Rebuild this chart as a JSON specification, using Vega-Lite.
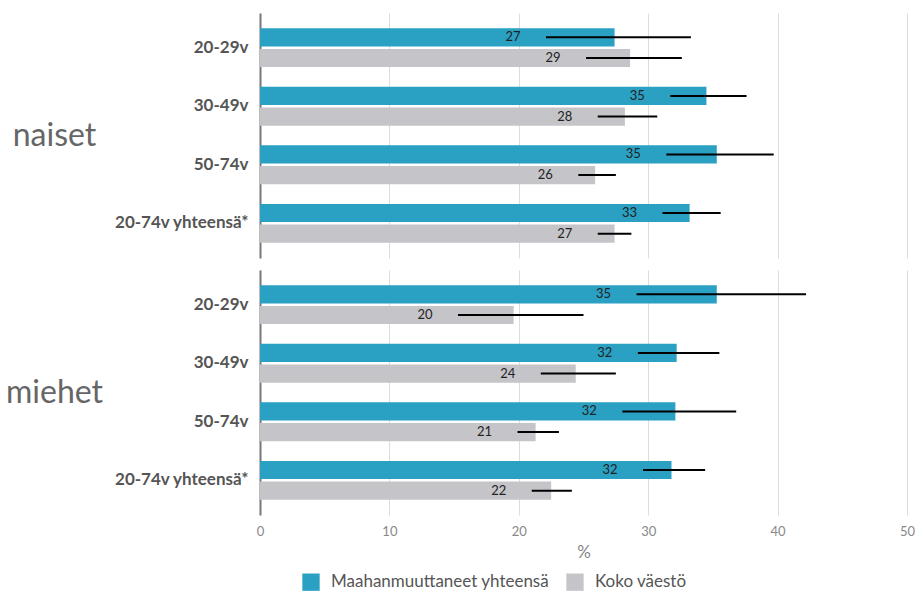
{
  "$schema": "https://vega.github.io/schema/vega-lite/v6.json",
  "padding": {"top": 13, "left": 5, "right": 0, "bottom": 0},
  "background": "white",
  "config": {
    "font": "Lato",
    "view": {"stroke": null},
    "concat": {"spacing": 12},
    "legend": {
      "title": null,
      "orient": "none",
      "legendX": 42,
      "legendY": 560,
      "direction": "horizontal",
      "symbolType": "square",
      "symbolSize": 300,
      "symbolStrokeWidth": 0,
      "symbolOpacity": 1,
      "labelFontSize": 17,
      "labelColor": "#555555",
      "labelLimit": 400,
      "labelOffset": 11,
      "columnPadding": 16
    }
  },
  "resolve": {"scale": {"color": "shared"}, "legend": {"color": "shared"}},
  "datasets": {
    "rows": [
      {"sex": "naiset", "age": "20-29v", "series": "Maahanmuuttaneet yhteensä", "value": 27.4, "lo": 22.1, "hi": 33.3, "label": "27"},
      {"sex": "naiset", "age": "20-29v", "series": "Koko väestö", "value": 28.6, "lo": 25.2, "hi": 32.6, "label": "29"},
      {"sex": "naiset", "age": "30-49v", "series": "Maahanmuuttaneet yhteensä", "value": 34.5, "lo": 31.7, "hi": 37.6, "label": "35"},
      {"sex": "naiset", "age": "30-49v", "series": "Koko väestö", "value": 28.2, "lo": 26.1, "hi": 30.7, "label": "28"},
      {"sex": "naiset", "age": "50-74v", "series": "Maahanmuuttaneet yhteensä", "value": 35.3, "lo": 31.4, "hi": 39.7, "label": "35"},
      {"sex": "naiset", "age": "50-74v", "series": "Koko väestö", "value": 25.9, "lo": 24.6, "hi": 27.5, "label": "26"},
      {"sex": "naiset", "age": "20-74v yhteensä*", "series": "Maahanmuuttaneet yhteensä", "value": 33.2, "lo": 31.1, "hi": 35.6, "label": "33"},
      {"sex": "naiset", "age": "20-74v yhteensä*", "series": "Koko väestö", "value": 27.4, "lo": 26.1, "hi": 28.7, "label": "27"},
      {"sex": "miehet", "age": "20-29v", "series": "Maahanmuuttaneet yhteensä", "value": 35.3, "lo": 29.1, "hi": 42.2, "label": "35"},
      {"sex": "miehet", "age": "20-29v", "series": "Koko väestö", "value": 19.6, "lo": 15.3, "hi": 25.0, "label": "20"},
      {"sex": "miehet", "age": "30-49v", "series": "Maahanmuuttaneet yhteensä", "value": 32.2, "lo": 29.2, "hi": 35.5, "label": "32"},
      {"sex": "miehet", "age": "30-49v", "series": "Koko väestö", "value": 24.4, "lo": 21.7, "hi": 27.5, "label": "24"},
      {"sex": "miehet", "age": "50-74v", "series": "Maahanmuuttaneet yhteensä", "value": 32.1, "lo": 28.0, "hi": 36.8, "label": "32"},
      {"sex": "miehet", "age": "50-74v", "series": "Koko väestö", "value": 21.3, "lo": 19.9, "hi": 23.1, "label": "21"},
      {"sex": "miehet", "age": "20-74v yhteensä*", "series": "Maahanmuuttaneet yhteensä", "value": 31.8, "lo": 29.6, "hi": 34.4, "label": "32"},
      {"sex": "miehet", "age": "20-74v yhteensä*", "series": "Koko väestö", "value": 22.5, "lo": 21.0, "hi": 24.1, "label": "22"}
    ]
  },
  "vconcat": [
    {
      "data": {"name": "rows"},
      "transform": [{"filter": "datum.sex === 'naiset'"}],
      "width": 647,
      "height": 245,
      "encoding": {
        "y": {
          "field": "age",
          "type": "nominal",
          "sort": ["20-29v", "30-49v", "50-74v", "20-74v yhteensä*"],
          "scale": {"paddingInner": 0.336, "paddingOuter": 0.26},
          "axis": {
            "title": "naiset",
            "titleAngle": 0,
            "titleAlign": "center",
            "titleBaseline": "middle",
            "titleX": -206,
            "titleY": 122.5,
            "titleFontSize": 32,
            "titleFontWeight": "normal",
            "titleColor": "#666666",
            "ticks": false,
            "domainColor": "#777777",
            "domainWidth": 2,
            "labelFontSize": 17,
            "labelFontWeight": "bold",
            "labelColor": "#555555",
            "labelPadding": 12
          }
        },
        "yOffset": {
          "field": "series",
          "type": "nominal",
          "sort": ["Maahanmuuttaneet yhteensä", "Koko väestö"],
          "scale": {"paddingInner": 0.12}
        }
      },
      "layer": [
        {
          "mark": {"type": "bar"},
          "encoding": {
            "x": {
              "field": "value",
              "type": "quantitative",
              "scale": {"domain": [0, 50]},
              "axis": {
                "title": null,
                "values": [0, 10, 20, 30, 40, 50],
                "labels": false,
                "domain": false,
                "ticks": false,
                "gridColor": "#dddddd",
                "minExtent": 0,
                "maxExtent": 0
              }
            },
            "color": {
              "field": "series",
              "type": "nominal",
              "sort": ["Maahanmuuttaneet yhteensä", "Koko väestö"],
              "scale": {"range": ["#2aa0c3", "#c5c4c9"]}
            }
          }
        },
        {
          "mark": {"type": "rule", "color": "black", "strokeWidth": 2},
          "encoding": {
            "x": {"field": "lo", "type": "quantitative"},
            "x2": {"field": "hi"}
          }
        },
        {
          "mark": {"type": "text", "align": "center", "baseline": "middle", "dx": -33, "fontSize": 13, "color": "#222222"},
          "encoding": {
            "x": {"field": "lo", "type": "quantitative"},
            "text": {"field": "label"}
          }
        }
      ]
    },
    {
      "data": {"name": "rows"},
      "transform": [{"filter": "datum.sex === 'miehet'"}],
      "width": 647,
      "height": 245,
      "encoding": {
        "y": {
          "field": "age",
          "type": "nominal",
          "sort": ["20-29v", "30-49v", "50-74v", "20-74v yhteensä*"],
          "scale": {"paddingInner": 0.336, "paddingOuter": 0.26},
          "axis": {
            "title": "miehet",
            "titleAngle": 0,
            "titleAlign": "center",
            "titleBaseline": "middle",
            "titleX": -206,
            "titleY": 122.5,
            "titleFontSize": 32,
            "titleFontWeight": "normal",
            "titleColor": "#666666",
            "ticks": false,
            "domainColor": "#777777",
            "domainWidth": 2,
            "labelFontSize": 17,
            "labelFontWeight": "bold",
            "labelColor": "#555555",
            "labelPadding": 12
          }
        },
        "yOffset": {
          "field": "series",
          "type": "nominal",
          "sort": ["Maahanmuuttaneet yhteensä", "Koko väestö"],
          "scale": {"paddingInner": 0.12}
        }
      },
      "layer": [
        {
          "mark": {"type": "bar"},
          "encoding": {
            "x": {
              "field": "value",
              "type": "quantitative",
              "scale": {"domain": [0, 50]},
              "axis": {
                "title": "%",
                "values": [0, 10, 20, 30, 40, 50],
                "domain": false,
                "ticks": false,
                "labelFlush": false,
                "gridColor": "#dddddd",
                "labelColor": "#888888",
                "labelFontSize": 13,
                "labelPadding": 10,
                "titleColor": "#888888",
                "titleFontSize": 17,
                "titleFontWeight": "normal",
                "titlePadding": 6
              }
            },
            "color": {
              "field": "series",
              "type": "nominal",
              "sort": ["Maahanmuuttaneet yhteensä", "Koko väestö"],
              "scale": {"range": ["#2aa0c3", "#c5c4c9"]}
            }
          }
        },
        {
          "mark": {"type": "rule", "color": "black", "strokeWidth": 2},
          "encoding": {
            "x": {"field": "lo", "type": "quantitative"},
            "x2": {"field": "hi"}
          }
        },
        {
          "mark": {"type": "text", "align": "center", "baseline": "middle", "dx": -33, "fontSize": 13, "color": "#222222"},
          "encoding": {
            "x": {"field": "lo", "type": "quantitative"},
            "text": {"field": "label"}
          }
        }
      ]
    }
  ]
}
